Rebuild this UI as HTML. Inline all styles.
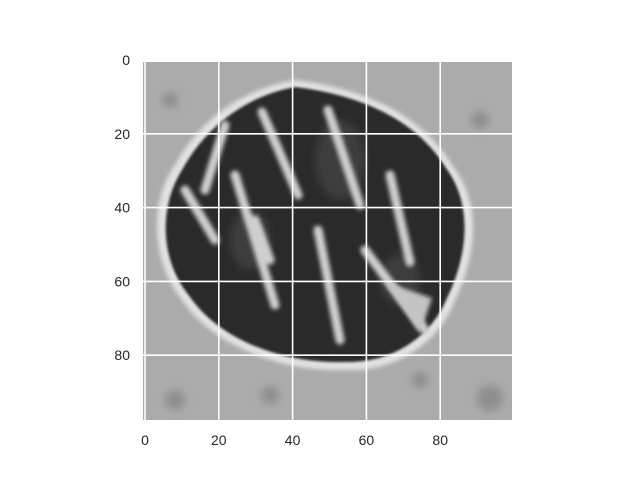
<!DOCTYPE html>
<html>
<head>
<meta charset="utf-8">
<style>
  html, body { margin: 0; padding: 0; background: #ffffff; }
  body { width: 640px; height: 480px; overflow: hidden; }
  text { font-family: "Liberation Sans", "DejaVu Sans", sans-serif; }
</style>
</head>
<body>
<svg id="chart" width="640" height="480" viewBox="0 0 640 480" xmlns="http://www.w3.org/2000/svg">
  <defs>
    <filter id="blur1" x="-20%" y="-20%" width="140%" height="140%"><feGaussianBlur stdDeviation="1.2"/></filter>
    <filter id="blur2" x="-20%" y="-20%" width="140%" height="140%"><feGaussianBlur stdDeviation="2"/></filter>
    <filter id="blur4" x="-20%" y="-20%" width="140%" height="140%"><feGaussianBlur stdDeviation="4"/></filter>
    <clipPath id="imgclip"><rect x="143" y="62" width="369" height="358"/></clipPath>
  </defs>
  <g id="image" clip-path="url(#imgclip)">
    <rect x="143" y="62" width="369" height="358" fill="#ababab"/>
    <g filter="url(#blur4)" fill="#8e8e8e">
      <circle cx="175" cy="400" r="10"/><circle cx="490" cy="398" r="13"/>
      <circle cx="270" cy="395" r="9"/><circle cx="420" cy="380" r="8"/>
      <circle cx="480" cy="120" r="9"/><circle cx="170" cy="100" r="8"/>
    </g>
    <path d="M295,80 C360,88 420,112 452,165 C488,210 470,270 455,300 C440,340 400,372 345,370 C280,372 212,345 182,300 C150,260 150,200 175,165 C200,120 240,90 295,80 Z" fill="#e2e2e2" filter="url(#blur2)"/>
    <path d="M295,87 C355,94 415,117 446,168 C478,212 462,268 447,298 C432,335 395,363 345,362 C283,364 220,340 190,297 C158,258 160,205 182,170 C205,128 245,96 295,87 Z" fill="#2a2a2a" filter="url(#blur1)"/>
    <g fill="#3c3c3c" filter="url(#blur4)">
      <ellipse cx="340" cy="160" rx="25" ry="40"/>
      <ellipse cx="250" cy="240" rx="20" ry="30"/>
      <ellipse cx="400" cy="280" rx="20" ry="25"/>
    </g>
    <g stroke="#cfcfcf" stroke-width="9" fill="none" stroke-linecap="round" filter="url(#blur2)">
      <path d="M225,125 L205,190"/>
      <path d="M262,112 L298,195"/>
      <path d="M328,110 L360,205"/>
      <path d="M235,175 L275,305"/>
      <path d="M185,190 L215,240"/>
      <path d="M318,230 L340,340"/>
      <path d="M365,250 L425,330"/>
      <path d="M390,175 L410,262"/>
      <path d="M255,220 L270,260"/>
    </g>
    <path d="M385,282 L432,298 L420,333 Z" fill="#c4c4c4" filter="url(#blur2)"/>
  </g>
  <g id="grid" stroke="#ffffff" stroke-width="1.6"></g>
  <g id="xticks" font-size="14" fill="#262626" text-anchor="middle"></g>
  <g id="yticks" font-size="14" fill="#262626" text-anchor="end"></g>
</svg>
<script>
const xTickValues = [0, 20, 40, 60, 80];
const yTickValues = [0, 20, 40, 60, 80];
const xLabels = ["0", "20", "40", "60", "80"];
const yLabels = ["0", "20", "40", "60", "80"];

const ns = "http://www.w3.org/2000/svg";
const unit = 3.69;
function xScale(v) { return 145 + v * unit; }
function yScale(v) { return 60 + v * unit; }

const grid = document.getElementById('grid');
const xt = document.getElementById('xticks');
const yt = document.getElementById('yticks');

xTickValues.forEach(function (v, i) {
  const l = document.createElementNS(ns, 'line');
  l.setAttribute('x1', xScale(v)); l.setAttribute('x2', xScale(v));
  l.setAttribute('y1', 62); l.setAttribute('y2', 420);
  
  
  grid.appendChild(l);
  const t = document.createElementNS(ns, 'text');
  t.setAttribute('x', xScale(v)); t.setAttribute('y', 445);
  t.textContent = xLabels[i];
  
  
  xt.appendChild(t);
});
yTickValues.forEach(function (v, i) {
  const l = document.createElementNS(ns, 'line');
  l.setAttribute('x1', 143); l.setAttribute('x2', 512);
  l.setAttribute('y1', yScale(v)); l.setAttribute('y2', yScale(v));
  
  
  grid.appendChild(l);
  const t = document.createElementNS(ns, 'text');
  t.setAttribute('x', 130); t.setAttribute('y', yScale(v) + 5);
  t.textContent = yLabels[i];
  
  
  yt.appendChild(t);
});
</script>
</body>
</html>
